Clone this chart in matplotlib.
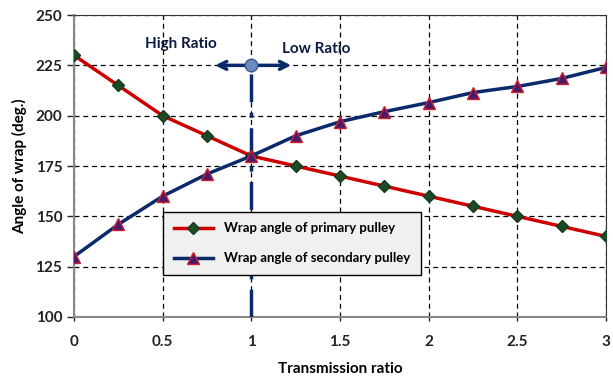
import numpy as np
import matplotlib.pyplot as plt

plt.rcParams['font.family'] = ['Lato', 'DejaVu Sans']
plt.rcParams['font.weight'] = 'bold'
plt.rcParams['axes.labelweight'] = 'bold'

# wrap angle data vs transmission ratio
ratio = [0, 0.25, 0.5, 0.75, 1, 1.25, 1.5, 1.75, 2, 2.25, 2.5, 2.75, 3]
primary = [230, 215, 200, 190, 180, 175, 170, 165, 160, 155, 150, 145, 140]
secondary = [130, 146, 160, 171, 180, 190, 197, 202, 206.5, 211.5, 214.5, 218.5, 224]

navy = '#0a2a6b'
fig = plt.figure(figsize=(6.13, 3.76), dpi=100)
ax = fig.add_axes([0.1207, 0.157, 0.868, 0.803])

ax.plot(ratio, primary, color='#cc0000', lw=2.5, marker='D', ms=6,
        mfc='#1d4a25', mec='#163a1c', label='Wrap angle of primary pulley', zorder=4)
ax.plot(ratio, secondary, color=navy, lw=2.5, marker='^', ms=8,
        mfc='#4a1a6a', mec='#d02030', mew=1, label='Wrap angle of secondary pulley', zorder=4)

# split line at ratio 1 with direction arrow
ax.plot([1, 1], [100, 225], color=navy, lw=2.5, ls=(0, (8, 3, 1.5, 3)), zorder=3)
ax.annotate('', xy=(0.78, 225), xytext=(1.24, 225),
            arrowprops=dict(arrowstyle='<->', color=navy, lw=2.5, mutation_scale=14), zorder=5)
ax.plot([1], [225], 'o', ms=9, mfc='#6a8cc0', mec='#3a5a90', zorder=6)
ax.text(0.6, 235.5, 'High Ratio', ha='center', va='center', fontsize=11,
        fontweight='bold', color='#0a1a40')
ax.text(1.17, 233, 'Low Ratio', ha='left', va='center', fontsize=11,
        fontweight='bold', color='#0a1a40')

ax.set_xlim(0, 3)
ax.set_ylim(100, 250)
ax.set_xticks([0, 0.5, 1, 1.5, 2, 2.5, 3])
ax.set_xticklabels(['0', '0.5', '1', '1.5', '2', '2.5', '3'])
ax.set_yticks(np.arange(100, 251, 25))
for lab in ax.get_xticklabels() + ax.get_yticklabels():
    lab.set_fontweight('bold')
ax.grid(True, color='black', ls=(0, (4, 3)), lw=0.9)
ax.tick_params(labelsize=11, colors='#222222', length=5, width=1)
ax.tick_params(axis='x', length=3, pad=10)
for s in ['left', 'bottom']:
    ax.spines[s].set_color('#888888')
    ax.spines[s].set_linewidth(1.5)
for s in ['top', 'right']:
    ax.spines[s].set_color('#333333')

ax.set_xlabel('Transmission ratio', fontsize=11, fontweight='bold', labelpad=9)
ax.set_ylabel('Angle of wrap (deg.)', fontsize=11, fontweight='bold', labelpad=6)

leg = ax.legend(loc='upper left', bbox_to_anchor=(0.155, 0.37),
                prop={'size': 9.5, 'weight': 'bold'},
                frameon=True, fancybox=False, edgecolor='black', facecolor='#f0f0f0',
                framealpha=1, handlelength=3, labelspacing=1.35, borderpad=0.8)
leg.get_frame().set_linewidth(1)

fig.savefig('out.png', dpi=100)
